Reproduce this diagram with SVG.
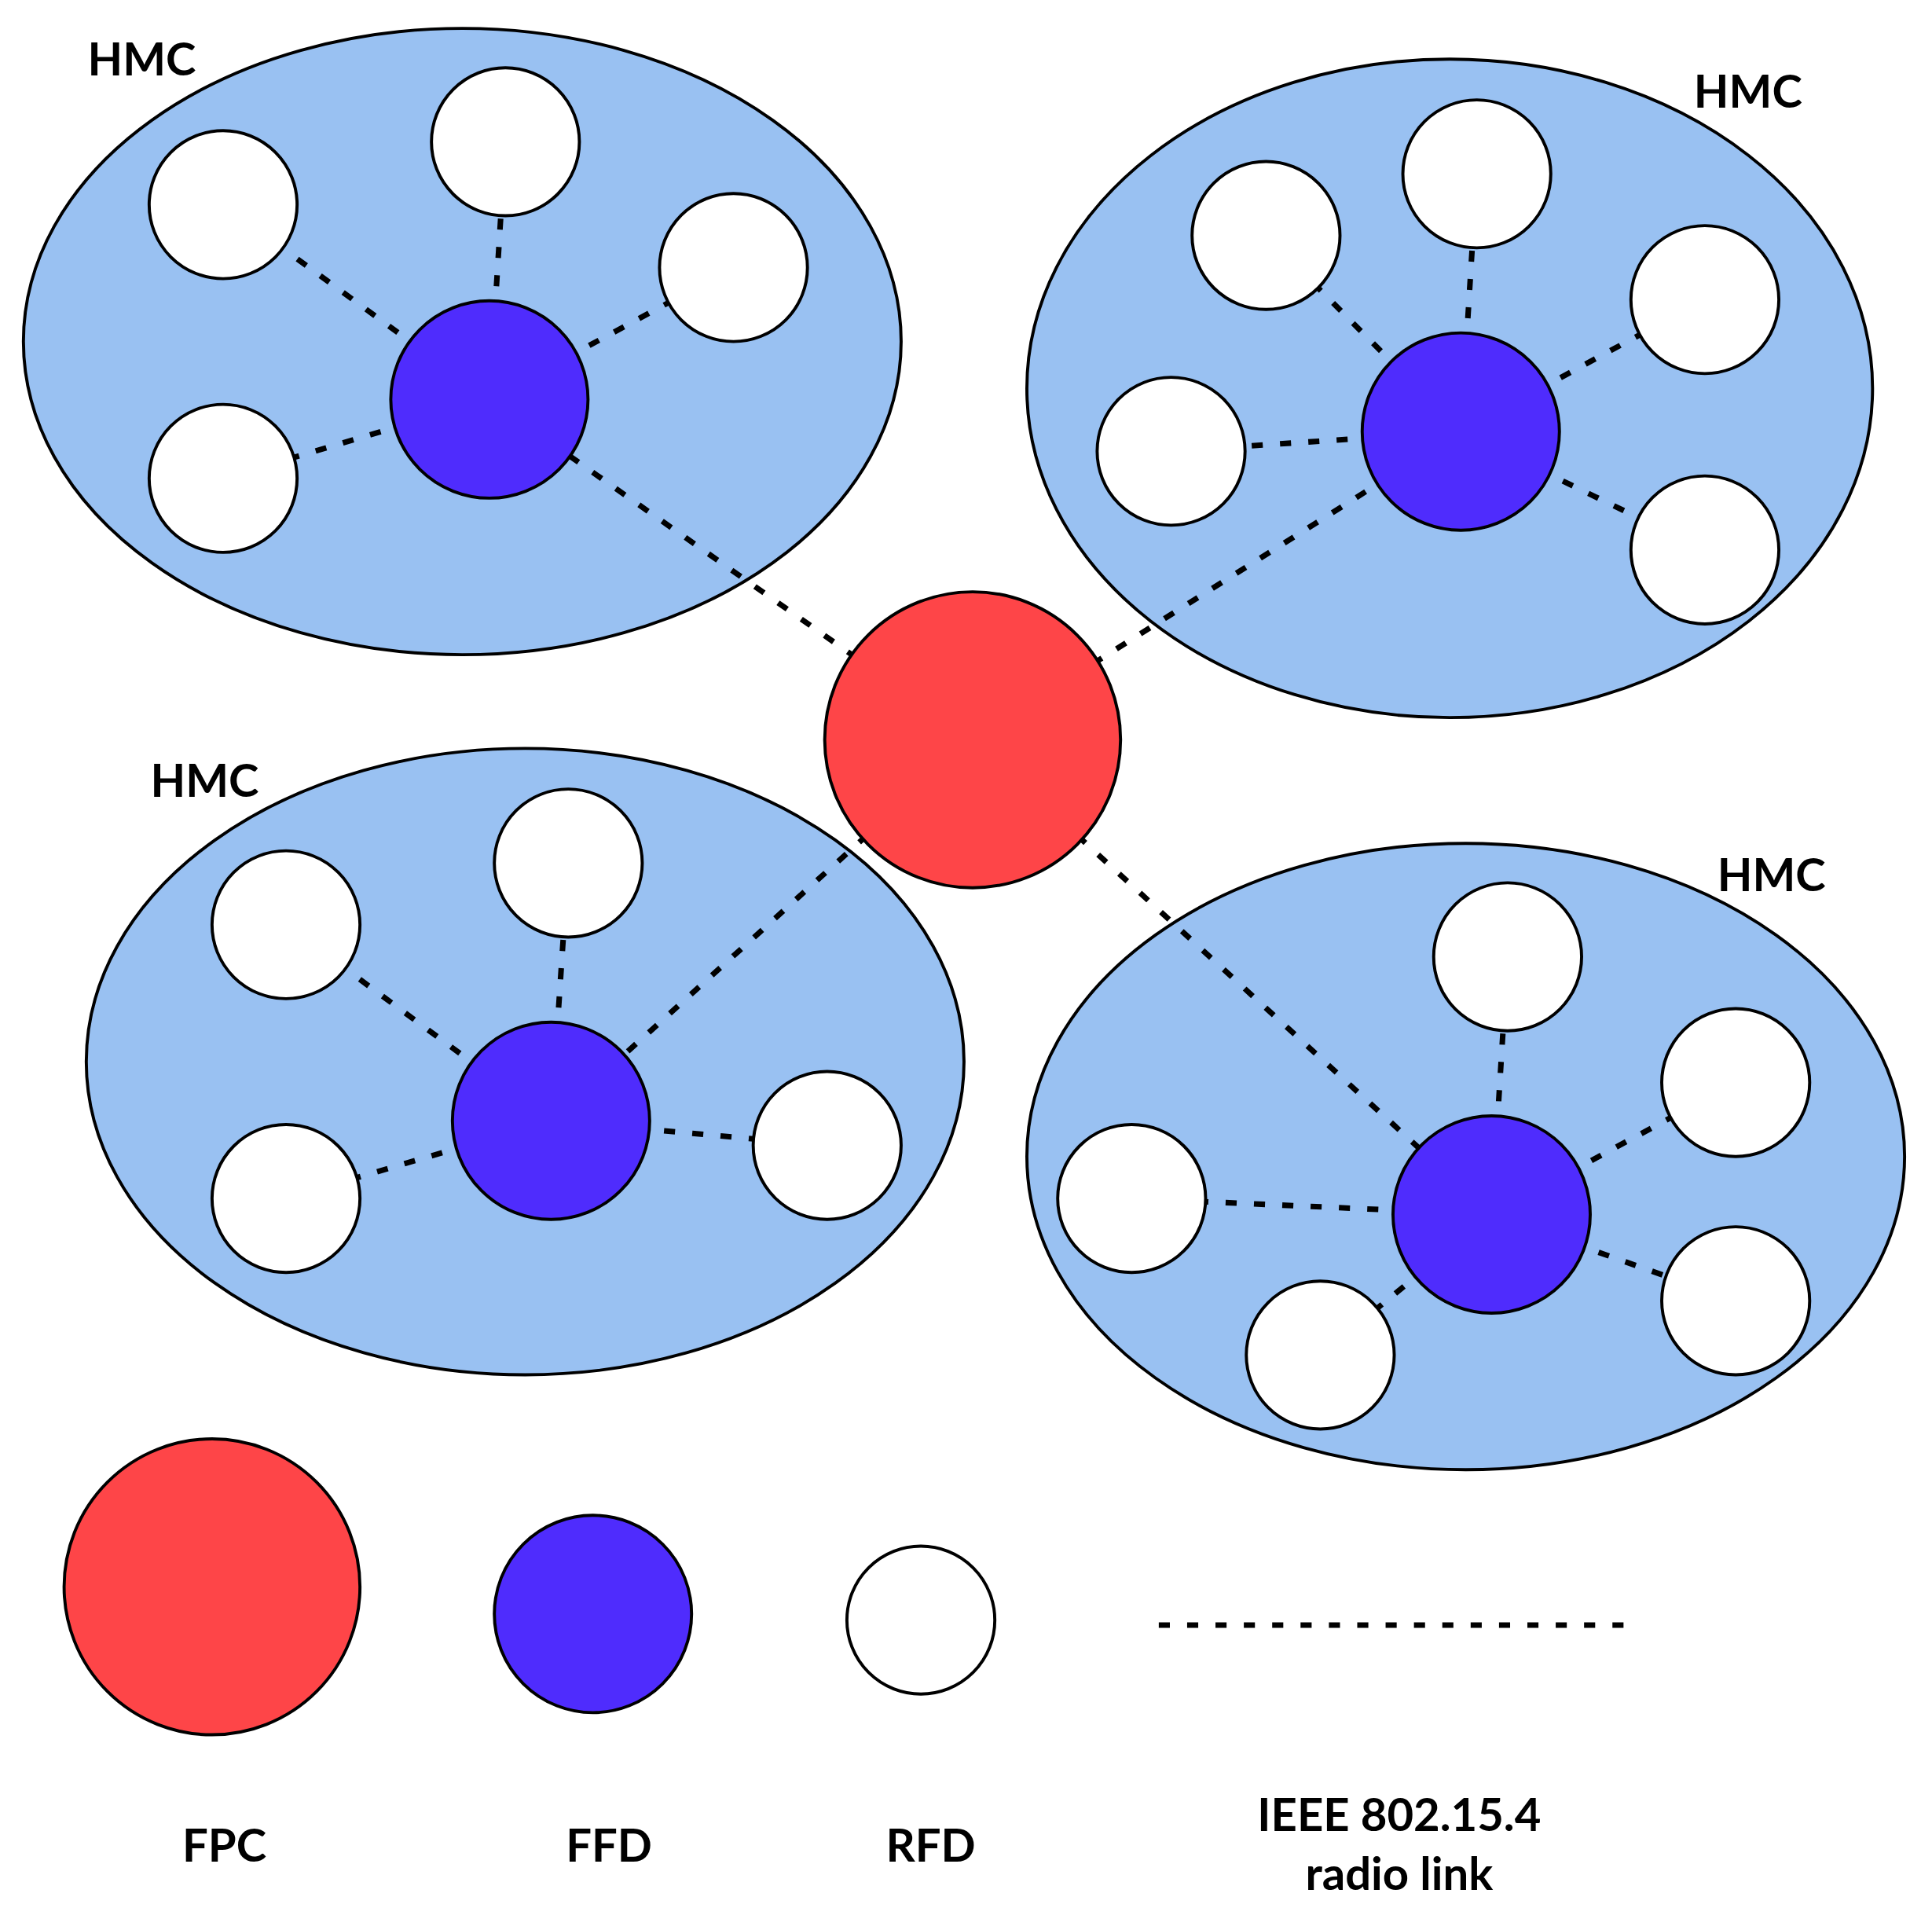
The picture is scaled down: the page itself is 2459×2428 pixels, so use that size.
<svg xmlns="http://www.w3.org/2000/svg" width="2459" height="2428" viewBox="0 0 2459 2428">
<style>
.hmc{fill:#99c1f2;stroke:#000;stroke-width:2.5}
.fpc{fill:#fe4548;stroke:#000;stroke-width:2.5}
.ffd{fill:#4f2cfd;stroke:#000;stroke-width:2.5}
.rfd{fill:#fff;stroke:#000;stroke-width:2.5}
.lnk{stroke:#000;stroke-width:4.5;stroke-dasharray:9 14;fill:none}
text{font-family:Lato,"Open Sans","Liberation Sans",sans-serif;font-weight:bold;font-size:37px;fill:#000;text-anchor:middle}
</style>
<rect width="2459" height="2428" fill="#fff"/>
<g transform="scale(1.569)">
<g id="hmc-ellipses">
<ellipse id="hmc1" class="hmc" cx="375" cy="277" rx="356" ry="254"/>
<ellipse id="hmc2" class="hmc" cx="1176" cy="315" rx="343" ry="267"/>
<ellipse id="hmc3" class="hmc" cx="426" cy="861" rx="356" ry="254"/>
<ellipse id="hmc4" class="hmc" cx="1189" cy="938" rx="356" ry="254"/>
</g>
<g id="connectors">
<line class="lnk" x1="789" y1="600" x2="397" y2="324"/>
<line class="lnk" x1="789" y1="600" x2="1185" y2="350"/>
<line class="lnk" x1="789" y1="600" x2="447" y2="909"/>
<line class="lnk" x1="789" y1="600" x2="1210" y2="985"/>
<line class="lnk" x1="397" y1="324" x2="181" y2="166"/>
<line class="lnk" x1="397" y1="324" x2="410" y2="115"/>
<line class="lnk" x1="397" y1="324" x2="595" y2="217"/>
<line class="lnk" x1="397" y1="324" x2="181" y2="388"/>
<line class="lnk" x1="1185" y1="350" x2="1027" y2="191"/>
<line class="lnk" x1="1185" y1="350" x2="1198" y2="141"/>
<line class="lnk" x1="1185" y1="350" x2="1383" y2="243"/>
<line class="lnk" x1="1185" y1="350" x2="950" y2="366"/>
<line class="lnk" x1="1185" y1="350" x2="1383" y2="446"/>
<line class="lnk" x1="447" y1="909" x2="232" y2="750"/>
<line class="lnk" x1="447" y1="909" x2="461" y2="700"/>
<line class="lnk" x1="447" y1="909" x2="232" y2="972"/>
<line class="lnk" x1="447" y1="909" x2="671" y2="929"/>
<line class="lnk" x1="1210" y1="985" x2="1223" y2="776"/>
<line class="lnk" x1="1210" y1="985" x2="1408" y2="878"/>
<line class="lnk" x1="1210" y1="985" x2="918" y2="972"/>
<line class="lnk" x1="1210" y1="985" x2="1071" y2="1099"/>
<line class="lnk" x1="1210" y1="985" x2="1408" y2="1055"/>
</g>
<g id="nodes">
<circle id="fpc" class="fpc" cx="789" cy="600" r="120"/>
<circle id="ffd1" class="ffd" cx="397" cy="324" r="80"/>
<circle class="rfd" cx="181" cy="166" r="60"/>
<circle class="rfd" cx="410" cy="115" r="60"/>
<circle class="rfd" cx="595" cy="217" r="60"/>
<circle class="rfd" cx="181" cy="388" r="60"/>
<circle id="ffd2" class="ffd" cx="1185" cy="350" r="80"/>
<circle class="rfd" cx="1027" cy="191" r="60"/>
<circle class="rfd" cx="1198" cy="141" r="60"/>
<circle class="rfd" cx="1383" cy="243" r="60"/>
<circle class="rfd" cx="950" cy="366" r="60"/>
<circle class="rfd" cx="1383" cy="446" r="60"/>
<circle id="ffd3" class="ffd" cx="447" cy="909" r="80"/>
<circle class="rfd" cx="232" cy="750" r="60"/>
<circle class="rfd" cx="461" cy="700" r="60"/>
<circle class="rfd" cx="232" cy="972" r="60"/>
<circle class="rfd" cx="671" cy="929" r="60"/>
<circle id="ffd4" class="ffd" cx="1210" cy="985" r="80"/>
<circle class="rfd" cx="1223" cy="776" r="60"/>
<circle class="rfd" cx="1408" cy="878" r="60"/>
<circle class="rfd" cx="918" cy="972" r="60"/>
<circle class="rfd" cx="1071" cy="1099" r="60"/>
<circle class="rfd" cx="1408" cy="1055" r="60"/>
</g>
<g id="labels">
<text x="115" y="61">HMC</text>
<text x="1418" y="87">HMC</text>
<text x="166" y="646">HMC</text>
<text x="1437" y="723">HMC</text>
</g>
<g id="legend">
<circle class="fpc" cx="172" cy="1287" r="120"/>
<circle class="ffd" cx="481" cy="1309" r="80"/>
<circle class="rfd" cx="747" cy="1314" r="60"/>
<line class="lnk" x1="940" y1="1318" x2="1320" y2="1318"/>
<text x="182" y="1510">FPC</text>
<text x="494" y="1510">FFD</text>
<text x="755" y="1510">RFD</text>
<text x="1135" y="1485">IEEE 802.15.4</text>
<text x="1135" y="1533">radio link</text>
</g>
</g>
</svg>
